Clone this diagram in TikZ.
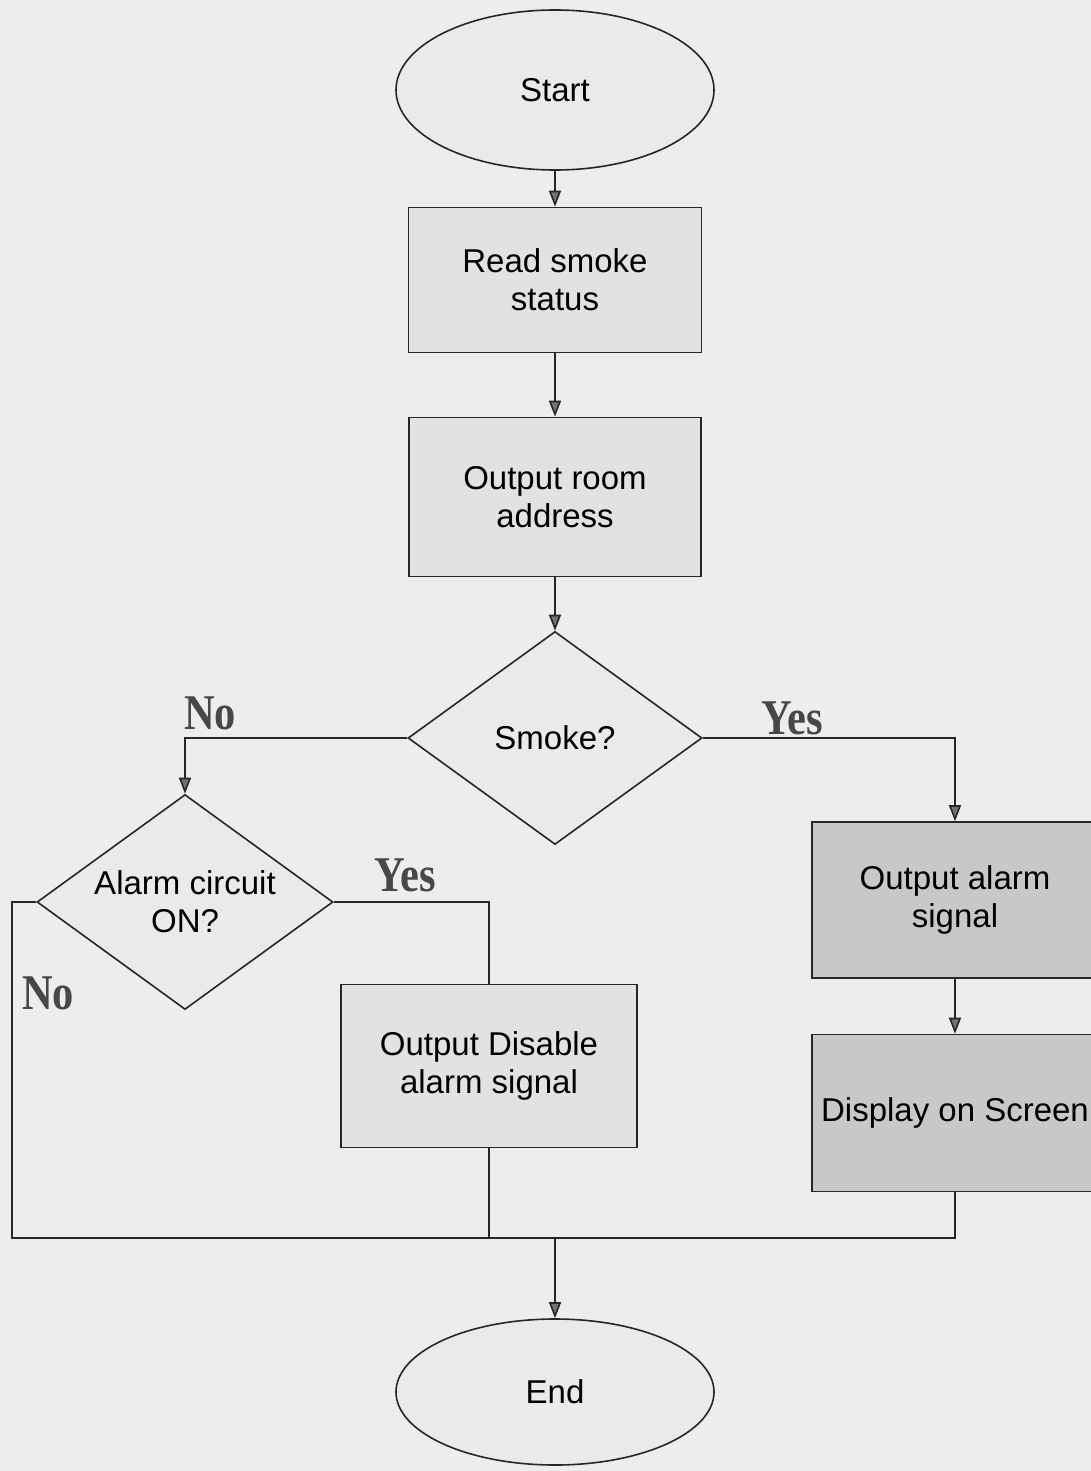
\documentclass[tikz,border=0pt]{standalone}
\usepackage{fontspec}
\setmainfont{Liberation Sans}
\newfontfamily\labfont{Liberation Serif}
\usetikzlibrary{shapes.geometric,arrows.meta}
\definecolor{bgc}{HTML}{EDEDED}
\definecolor{boxlight}{HTML}{E2E2E2}
\definecolor{boxdark}{HTML}{C8C8C8}
\definecolor{shapefill}{HTML}{EAEAEA}
\tikzset{
  base/.style={draw=black!85, line width=0.8pt, align=center, inner sep=0pt,
    font=\fontsize{16.5pt}{19pt}\selectfont},
  procbox/.style={base, rectangle, fill=boxlight},
  darkbox/.style={base, rectangle, fill=boxdark},
  termin/.style={base, ellipse, fill=shapefill},
  decide/.style={base, diamond, fill=shapefill},
  plaintext/.style={align=center, inner sep=0pt, font=\fontsize{16.5pt}{19pt}\selectfont},
  conn/.style={draw=black!85, line width=0.8pt},
  arr/.style={conn, -{Triangle[width=6pt,length=8pt,fill=black!55]}},
  yn/.style={font=\labfont\bfseries\fontsize{25pt}{27pt}\selectfont, text=black!72, xscale=0.85, inner sep=0pt}
}
\begin{document}
\begin{tikzpicture}[x=0.5pt,y=-0.5pt]
\fill[bgc] (0,0) rectangle (1091,1471);
\useasboundingbox (0,0) rectangle (1091,1471);
\clip (0,0) rectangle (1091,1471);

\node[termin, minimum width=159pt, minimum height=80pt] (start) at (555,90) {Start};
\node[procbox, minimum width=146.5pt, minimum height=72.5pt] (read) at (555,280) {Read smoke\\status};
\node[procbox, minimum width=146pt, minimum height=79.5pt] (room) at (555,497) {Output room\\address};
\node[decide, minimum width=147pt, minimum height=106.5pt] (smoke) at (555,738) {Smoke?};
\node[decide, minimum width=148pt, minimum height=107.5pt] (alarm) at (185,902) {};
\node[plaintext] (alarmtext) at (185,902) {Alarm circuit\\ON?};
\node[procbox, minimum width=148pt, minimum height=81.5pt] (dis) at (489,1066) {Output Disable\\alarm signal};
\node[darkbox, minimum width=143pt, minimum height=78pt] (oas) at (955,900) {Output alarm\\signal};
\node[darkbox, minimum width=143pt, minimum height=78.5pt] (disp) at (955,1113) {Display on Screen};
\node[termin, minimum width=159pt, minimum height=73pt] (end) at (555,1392) {End};

\coordinate (merge) at (555,1238);
\coordinate (leftcorner) at (12,902);
\coordinate (leftbottom) at (12,1238);

\draw[arr] (start.south) -- (read.north);
\draw[arr] (read.south) -- (room.north);
\draw[arr] (room.south) -- (smoke.north);
\draw[arr] (smoke.west) -| (alarm.north);
\draw[arr] (smoke.east) -| (oas.north);
\draw[conn] (alarm.east) -| (dis.north);
\draw[arr] (oas.south) -- (disp.north);
\draw[conn] (alarm.west) -- (leftcorner) -- (leftbottom) -- (merge);
\draw[conn] (dis.south) -- (dis.south |- merge);
\draw[conn] (disp.south) -- (disp.south |- merge) -- (merge);
\draw[arr] (merge) -- (end.north);

\node[yn] (lno1) at (210,713) {No};
\node[yn] (lyes1) at (792,718) {Yes};
\node[yn] (lyes2) at (405,875) {Yes};
\node[yn] (lno2) at (48,993) {No};
\end{tikzpicture}
\end{document}
